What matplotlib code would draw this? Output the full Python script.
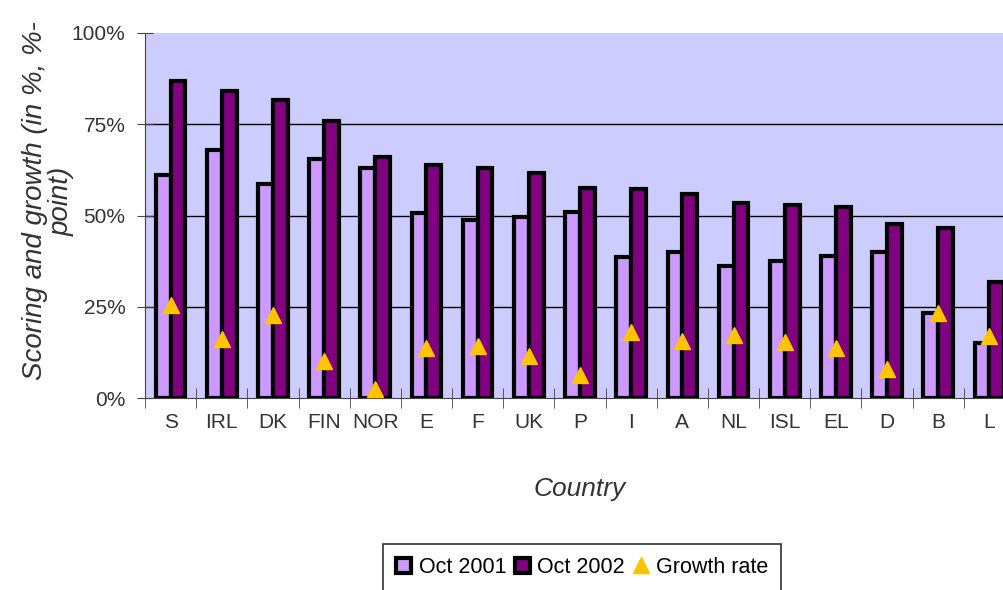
import numpy as np
import matplotlib.pyplot as plt
from matplotlib.ticker import FixedLocator, PercentFormatter

countries = ['S', 'IRL', 'DK', 'FIN', 'NOR', 'E', 'F', 'UK', 'P', 'I',
             'A', 'NL', 'ISL', 'EL', 'D', 'B', 'L']
oct2001 = [61, 68, 58.6, 65.6, 63.1, 50.7, 48.8, 49.6, 51, 38.6,
           40, 36.2, 37.5, 38.9, 40, 23.3, 15]
oct2002 = [86.8, 84.2, 81.6, 75.9, 66, 63.8, 63, 61.6, 57.5, 57.3,
           55.9, 53.4, 52.9, 52.3, 47.7, 46.6, 31.8]
growth = [25.5, 16.2, 22.7, 10.1, 2.5, 13.8, 14.3, 11.6, 6.4, 18.2,
          15.5, 17.3, 15.4, 13.7, 8, 23.3, 17]
grid_levels = [25, 50, 75]

plt.rcParams['font.family'] = ['Liberation Sans', 'DejaVu Sans']

fig = plt.figure(figsize=(10.04, 5.9), dpi=100)
ax = fig.add_axes([145/1004, 1 - 398/590, 870/1004, 365/590])
ax.set_facecolor('#CCCCFF')

x = np.arange(len(countries))
w = 0.29
b1 = ax.bar(x - w, oct2001, w, align='edge', color='#CC99FF', edgecolor='black',
            linewidth=3, label='Oct 2001', zorder=3)
b2 = ax.bar(x, oct2002, w, align='edge', color='#800080', edgecolor='black',
            linewidth=3, label='Oct 2002', zorder=3)
g, = ax.plot(x, growth, linestyle='none', marker='^', markersize=12,
             color='#FFC400', label='Growth rate', zorder=4)

ax.set_xlim(-0.5, len(countries) - 0.5)
ax.set_ylim(0, 100)
for lv in grid_levels:
    ax.axhline(lv, color='black', linewidth=1, zorder=1)
ax.yaxis.set_major_locator(FixedLocator([0, 25, 50, 75, 100]))
ax.yaxis.set_major_formatter(PercentFormatter(decimals=0))

ax.set_xticks(x)
ax.set_xticklabels(countries)
ax.set_xticks(np.arange(len(countries) + 1) - 0.5, minor=True)
ax.tick_params(axis='x', which='major', length=0, pad=11, labelsize=15,
               labelcolor='#333333')
ax.tick_params(axis='x', which='minor', direction='inout', length=14,
               color='#444444')
ax.tick_params(axis='y', direction='inout', length=12, pad=8, labelsize=15,
               labelcolor='#333333', color='#444444')

for s in ['top', 'right']:
    ax.spines[s].set_visible(False)
ax.spines['left'].set_color('#444444')
ax.spines['bottom'].set_color('#444444')

ax.set_xlabel('Country', fontsize=19, style='italic', labelpad=32,
              color='#333333')
ax.set_ylabel('Scoring and growth (in %, %-\npoint)', fontsize=20,
              style='italic', color='#333333', linespacing=1.05)
ax.yaxis.set_label_coords(-0.081, 0.54)

leg = fig.legend(handles=[b1, b2, g], loc='upper left',
                 bbox_to_anchor=(383/1004, 1 - 544/590),
                 ncol=3, fontsize=15.5, frameon=True, fancybox=False,
                 handlelength=0.7, handletextpad=0.35, columnspacing=0.4,
                 borderpad=0.6, borderaxespad=0)
leg.get_frame().set_edgecolor('black')
leg.get_frame().set_linewidth(1.2)

fig.savefig('out.png', dpi=100)
